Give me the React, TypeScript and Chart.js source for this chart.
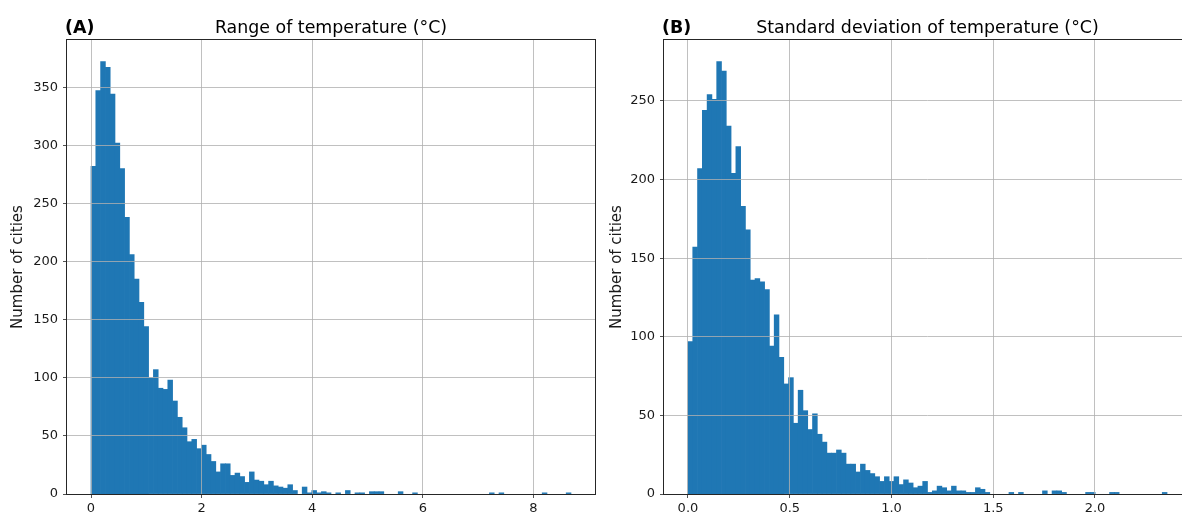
import React, { useEffect, useRef } from "react";
import { Chart, registerables } from "chart.js";

Chart.register(...registerables);

// ---------- data ----------
const rangeBinMin = 0;
const rangeBinMax = 8.68;
const rangeCounts = [
  282, 347, 372, 367, 344, 302, 280, 238, 206, 185,
  165, 144, 100, 107, 91, 90, 98, 80, 66, 57,
  45, 47, 39, 42, 34, 28, 19, 26, 26, 16,
  18, 15, 10, 19, 12, 11, 8, 11, 7, 6,
  5, 8, 3, 0, 6, 1, 3, 1, 2, 1,
  0, 1, 0, 3, 0, 1, 1, 0, 2, 2,
  2, 0, 0, 0, 2, 0, 0, 1, 0, 0,
  0, 0, 0, 0, 0, 0, 0, 0, 0, 0,
  0, 0, 0, 1, 0, 1, 0, 0, 0, 0,
  0, 0, 0, 0, 1, 0, 0, 0, 0, 1,
];

const stdBinMin = 0;
const stdBinMax = 2.354;
const stdCounts = [
  97, 157, 207, 244, 254, 251, 275, 269, 234, 204,
  221, 183, 168, 136, 137, 135, 130, 94, 114, 87,
  70, 74, 45, 66, 53, 41, 51, 38, 33, 26,
  26, 28, 26, 19, 19, 14, 19, 15, 13, 11,
  8, 11, 8, 11, 6, 9, 7, 4, 5, 8,
  1, 2, 5, 4, 2, 5, 2, 2, 1, 1,
  4, 3, 1, 0, 0, 0, 0, 1, 0, 1,
  0, 0, 0, 0, 2, 0, 2, 2, 1, 0,
  0, 0, 0, 1, 1, 0, 0, 0, 1, 1,
  0, 0, 0, 0, 0, 0, 0, 0, 0, 1,
];

const rangeXTicks = [0, 2, 4, 6, 8];
const stdXTicks = [0, 0.5, 1, 1.5, 2];
const rangeYTicks = [0, 50, 100, 150, 200, 250, 300, 350];
const stdYTicks = [0, 50, 100, 150, 200, 250];

const rangeTitle = "Range of temperature (°C)";
const stdTitle = "Standard deviation of temperature (°C)";
const rangeLetter = "(A)";
const stdLetter = "(B)";
const yAxisLabel = "Number of cities";

// ---------- styling ----------
const BAR_COLOR = "#1f77b4";
const GRID_COLOR = "#b0b0b0";
const TEXT_COLOR = "#1a1a1a";
const FONT = '"DejaVu Sans", sans-serif';

type PanelSpec = {
  counts: number[];
  binMin: number;
  binMax: number;
  xTicks: number[];
  yTicks: number[];
  xDecimals: number;
  title: string;
  letter: string;
  letterX: number;
  yLabelX: number;
  yAxisWidth: number;
  padRight: number;
};

function makeChart(canvas: HTMLCanvasElement, p: PanelSpec) {
  const n = p.counts.length;
  const w = (p.binMax - p.binMin) / n;
  const span = p.binMax - p.binMin;
  const xMin = p.binMin - span * 0.05;
  const xMax = p.binMax + span * 0.05;
  const yMax = Math.max(...p.counts) * 1.05;
  const data = p.counts.map((c, i) => ({ x: p.binMin + (i + 0.5) * w, y: c }));

  const textPlugin = {
    id: "panelText",
    afterDraw(chart: any) {
      const { ctx, chartArea: a } = chart;
      ctx.save();
      // frame
      ctx.strokeStyle = "#262626";
      ctx.lineWidth = 1;
      ctx.strokeRect(a.left - 0.5, a.top - 0.5, a.right - a.left + 1, a.bottom - a.top + 1);
      // title
      ctx.fillStyle = "#000";
      ctx.font = `17.4px ${FONT}`;
      ctx.textAlign = "center";
      ctx.textBaseline = "alphabetic";
      ctx.fillText(p.title, (a.left + a.right) / 2, 33);
      // panel letter
      ctx.font = `bold 17.4px ${FONT}`;
      ctx.textAlign = "left";
      ctx.fillText(p.letter, p.letterX, 33);
      // y label
      ctx.font = `15px ${FONT}`;
      ctx.fillStyle = TEXT_COLOR;
      ctx.translate(p.yLabelX, (a.top + a.bottom) / 2);
      ctx.rotate(-Math.PI / 2);
      ctx.textAlign = "center";
      ctx.textBaseline = "middle";
      ctx.fillText(yAxisLabel, 0, 0);
      ctx.restore();
    },
  };

  return new Chart(canvas, {
    type: "bar",
    data: {
      datasets: [
        {
          data: data as any,
          backgroundColor: (ctx: any) =>
            ctx.raw && ctx.raw.y === 0 ? "rgba(0,0,0,0)" : BAR_COLOR,
          borderWidth: 0,
          barPercentage: 1,
          categoryPercentage: 1,
        },
      ],
    },
    options: {
      animation: false,
      responsive: false,
      maintainAspectRatio: false,
      layout: { padding: { top: 40, right: p.padRight, left: 0, bottom: 0 } },
      plugins: {
        legend: { display: false },
        tooltip: { enabled: false },
        title: { display: false },
      },
      scales: {
        x: {
          type: "linear",
          min: xMin,
          max: xMax,
          offset: false,
          grid: {
            z: 1,
            color: GRID_COLOR,
            lineWidth: 0.8,
            tickLength: 4,
            tickColor: "#262626",
            offset: false,
          },
          border: { display: false },
          ticks: {
            color: TEXT_COLOR,
            font: { family: FONT, size: 13 },
            padding: 3,
            maxRotation: 0,
            autoSkip: false,
            callback: (v: any) => Number(v).toFixed(p.xDecimals),
          },
          afterBuildTicks: (scale: any) => {
            scale.ticks = p.xTicks.map((v) => ({ value: v }));
          },
          afterFit: (scale: any) => {
            scale.height = 21;
          },
        },
        y: {
          type: "linear",
          min: 0,
          max: yMax,
          grid: {
            z: 1,
            color: GRID_COLOR,
            lineWidth: 0.8,
            tickLength: 4,
            tickColor: "#262626",
          },
          border: { display: false },
          ticks: {
            color: TEXT_COLOR,
            font: { family: FONT, size: 13 },
            padding: 5,
            autoSkip: false,
          },
          afterBuildTicks: (scale: any) => {
            scale.ticks = p.yTicks.map((v) => ({ value: v }));
          },
          afterFit: (scale: any) => {
            scale.width = p.yAxisWidth;
          },
        },
      },
    } as any,
    plugins: [textPlugin],
  });
}

function Panel({ spec, left }: { spec: PanelSpec; left: number }) {
  const ref = useRef<HTMLCanvasElement | null>(null);
  useEffect(() => {
    if (!ref.current) return;
    const chart = makeChart(ref.current, spec);
    return () => chart.destroy();
  }, [spec]);
  return (
    <canvas
      ref={ref}
      width={600}
      height={515}
      style={{ position: "absolute", left, top: 0, width: 600, height: 515 }}
    />
  );
}

const rangeSpec: PanelSpec = {
  counts: rangeCounts,
  binMin: rangeBinMin,
  binMax: rangeBinMax,
  xTicks: rangeXTicks,
  yTicks: rangeYTicks,
  xDecimals: 0,
  title: rangeTitle,
  letter: rangeLetter,
  letterX: 65,
  yLabelX: 18,
  yAxisWidth: 67,
  padRight: 5,
};

const stdSpec: PanelSpec = {
  counts: stdCounts,
  binMin: stdBinMin,
  binMax: stdBinMax,
  xTicks: stdXTicks,
  yTicks: stdYTicks,
  xDecimals: 1,
  title: stdTitle,
  letter: stdLetter,
  letterX: 62,
  yLabelX: 17,
  yAxisWidth: 64,
  padRight: 9,
};

export default function App() {
  return (
    <div
      style={{
        position: "fixed",
        left: 0,
        top: 0,
        width: 1182,
        height: 515,
        overflow: "hidden",
        background: "#fff",
      }}
    >
      <Panel spec={rangeSpec} left={0} />
      <Panel spec={stdSpec} left={600} />
    </div>
  );
}
